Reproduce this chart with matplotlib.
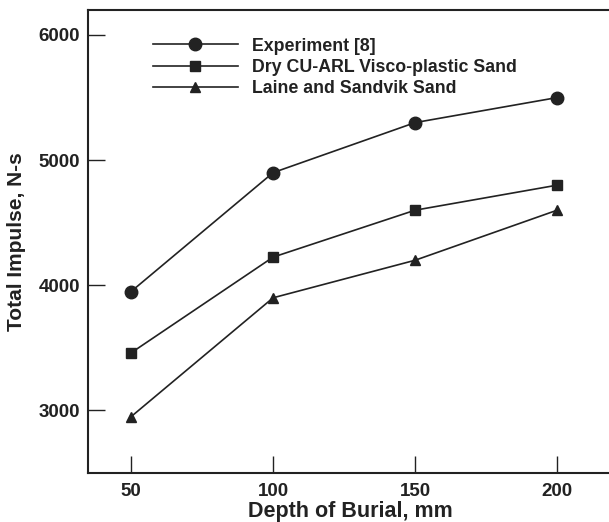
import numpy as np
import matplotlib.pyplot as plt

plt.rcParams['font.family'] = ['Liberation Sans', 'DejaVu Sans']
plt.rcParams['font.weight'] = 'bold'

# datos
depth = [50, 100, 150, 200]
experiment = [3950, 4900, 5300, 5500]
dry_cu_arl = [3460, 4225, 4600, 4800]
laine_sandvik = [2950, 3900, 4200, 4600]
labels = ['Experiment [8]', 'Dry CU-ARL Visco-plastic Sand', 'Laine and Sandvik Sand']

fig = plt.figure(figsize=(6.09, 5.22), dpi=100)
ax = fig.add_axes([0.1453, 0.0939, 0.86, 0.887])

ax.plot(depth, experiment, color='#222222', lw=1.2, marker='o', ms=9, label=labels[0])
ax.plot(depth, dry_cu_arl, color='#222222', lw=1.2, marker='s', ms=7, label=labels[1])
ax.plot(depth, laine_sandvik, color='#222222', lw=1.2, marker='^', ms=7, label=labels[2])

ax.set_xlim(35, 219.4)
ax.set_ylim(2500, 6200)
ax.set_xticks(depth)
ax.set_yticks([3000, 4000, 5000, 6000])
ax.tick_params(direction='in', length=12, width=1, labelsize=13.5, colors='#222222')
ax.tick_params(axis='x', pad=7)
ax.tick_params(axis='y', pad=6)
for s in ax.spines.values():
    s.set_linewidth(1.5)
    s.set_color('#222222')

ax.set_xlabel('Depth of Burial, mm', fontsize=15.5, fontweight='bold', color='#222222', labelpad=1)
ax.set_ylabel('Total Impulse, N-s', fontsize=15, fontweight='bold', color='#222222', labelpad=9)

leg = ax.legend(loc='upper left', bbox_to_anchor=(0.092, 0.975), frameon=False,
                fontsize=12.8, handlelength=4.8, handletextpad=0.8, labelspacing=0.25)
for t in leg.get_texts():
    t.set_color('#222222')

fig.savefig('out.png', dpi=100)
